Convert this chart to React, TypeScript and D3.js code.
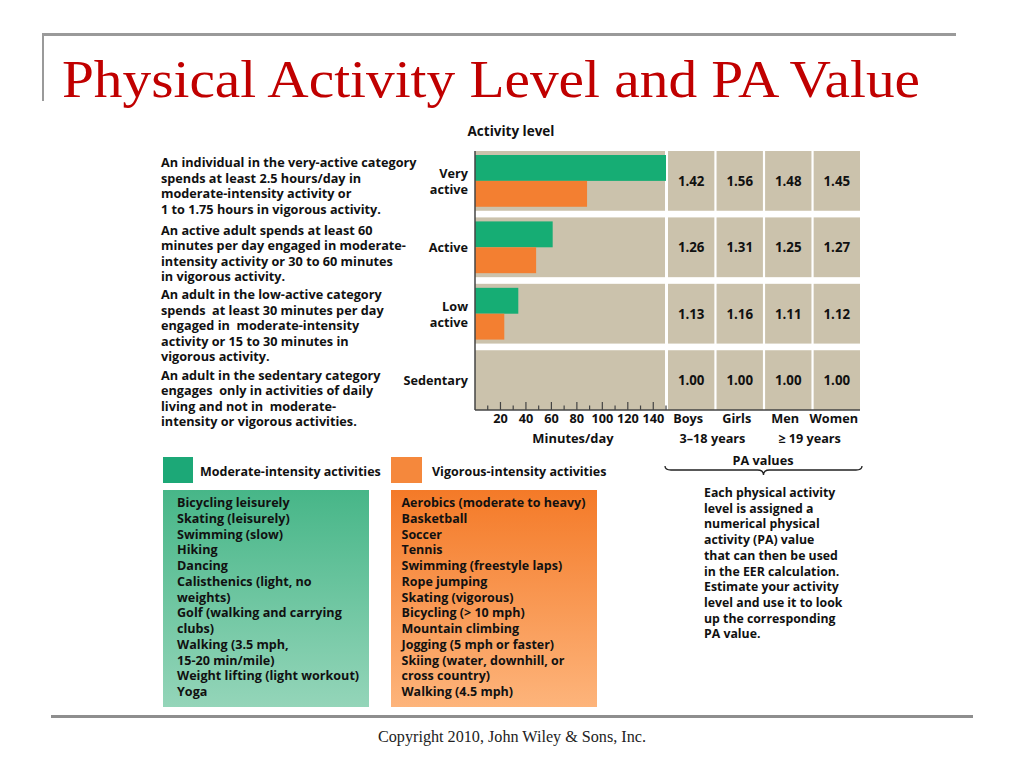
import React from 'react'
import * as d3 from 'd3'

// activity levels (rows) and minutes/day of each intensity
const levels = ['Very active', 'Active', 'Low active', 'Sedentary']
const levelLabels = [['Very', 'active'], ['Active'], ['Low', 'active'], ['Sedentary']]
const moderateMinutes = [150, 61, 34, 0]
const vigorousMinutes = [88, 48, 23, 0]

// PA values table
const groups = ['Boys', 'Girls', 'Men', 'Women']
const paBoys = ['1.42', '1.26', '1.13', '1.00']
const paGirls = ['1.56', '1.31', '1.16', '1.00']
const paMen = ['1.48', '1.25', '1.11', '1.00']
const paWomen = ['1.45', '1.27', '1.12', '1.00']
const ageLabels = [
  { text: '3–18 years', from: 'Boys', to: 'Girls' },
  { text: '≥ 19 years', from: 'Men', to: 'Women' },
]

const minuteTicks = [20, 40, 60, 80, 100, 120, 140]

const descriptions = [
  ['An individual in the very-active category', 'spends at least 2.5 hours/day in', 'moderate-intensity activity or', '1 to 1.75 hours in vigorous activity.'],
  ['An active adult spends at least 60', 'minutes per day engaged in moderate-', 'intensity activity or 30 to 60 minutes', 'in vigorous activity.'],
  ['An adult in the low-active category', 'spends  at least 30 minutes per day', 'engaged in  moderate-intensity', 'activity or 15 to 30 minutes in', 'vigorous activity.'],
  ['An adult in the sedentary category', 'engages  only in activities of daily', 'living and not in  moderate-', 'intensity or vigorous activities.'],
]
const descriptionStarts = [167, 234.5, 299, 379.5]

const moderateActivities = [
  'Bicycling leisurely', 'Skating (leisurely)', 'Swimming (slow)', 'Hiking', 'Dancing',
  'Calisthenics (light, no', 'weights)', 'Golf (walking and carrying', 'clubs)',
  'Walking (3.5 mph,', '15-20 min/mile)', 'Weight lifting (light workout)', 'Yoga',
]
const vigorousActivities = [
  'Aerobics (moderate to heavy)', 'Basketball', 'Soccer', 'Tennis', 'Swimming (freestyle laps)',
  'Rope jumping', 'Skating (vigorous)', 'Bicycling (> 10 mph)', 'Mountain climbing',
  'Jogging (5 mph or faster)', 'Skiing (water, downhill, or', 'cross country)', 'Walking (4.5 mph)',
]
const paNote = [
  'Each physical activity', 'level is assigned a', 'numerical physical', 'activity (PA) value',
  'that can then be used', 'in the EER calculation.', 'Estimate your activity',
  'level and use it to look', 'up the corresponding', 'PA value.',
]

const GREEN = '#16ad74'
const ORANGE = '#f37f31'
const TAN = '#cbc2ac'
const FONT = '"Open Sans", Lato, sans-serif'

export default () => {
  const x = d3.scaleLinear().domain([0, 150]).range([475, 666])
  const y = d3.scaleBand<string>().domain(levels).range([151, 410]).paddingInner(0.1)
  const inner = d3.scaleBand<string>().domain(['moderate', 'vigorous']).range([4, y.bandwidth() - 4])
  const col = d3.scaleBand<string>().domain(groups).range([668, 860]).paddingInner(0.045)
  const paTable = [paBoys, paGirls, paMen, paWomen]
  const ticks10 = d3.range(10, 151, 10)
  const lineH = 15.75

  const brace = (x0: number, x1: number, yy: number) => {
    const m = (x0 + x1) / 2
    return `M${x0},${yy - 4} Q${x0},${yy} ${x0 + 6},${yy} L${m - 6},${yy} Q${m},${yy} ${m},${yy + 5} Q${m},${yy} ${m + 6},${yy} L${x1 - 6},${yy} Q${x1},${yy} ${x1},${yy - 4}`
  }

  return (
    <svg width={1024} height={768} style={{ position: 'absolute', left: 0, top: 0, background: '#fff' }}>
      <defs>
        <linearGradient id="gGreen" x1="0" y1="0" x2="0" y2="1">
          <stop offset="0" stopColor="#47b688" />
          <stop offset="1" stopColor="#94d5b9" />
        </linearGradient>
        <linearGradient id="gOrange" x1="0" y1="0" x2="0" y2="1">
          <stop offset="0" stopColor="#f47a28" />
          <stop offset="1" stopColor="#fdb47b" />
        </linearGradient>
      </defs>

      {/* slide frame */}
      <line x1={42} x2={956} y1={34.5} y2={34.5} stroke="#9a9a9a" strokeWidth={3} />
      <line x1={43} x2={43} y1={33} y2={101} stroke="#9a9a9a" strokeWidth={2} />
      <line x1={51} x2={973} y1={716.5} y2={716.5} stroke="#8e8e8e" strokeWidth={3} />
      <text x={62} y={97} fontFamily='"Liberation Serif", serif' fontSize={52} fill="#c00000"
        textLength={858} lengthAdjust="spacingAndGlyphs">Physical Activity Level and PA Value</text>
      <text x={378} y={742} fontFamily='"Liberation Serif", serif' fontSize={16} fill="#222"
        textLength={268} lengthAdjust="spacingAndGlyphs">Copyright 2010, John Wiley &amp; Sons, Inc.</text>

      <g fontFamily={FONT} fontWeight={700} fill="#111">
        <text x={511} y={136} fontSize={13.5} textAnchor="middle">Activity level</text>

        {/* descriptions */}
        {descriptions.map((lines, i) => (
          <text key={i} x={161} fontSize={12.7}>
            {lines.map((l, j) => (
              <tspan key={j} x={161} y={descriptionStarts[i] + j * 15.6} style={{ whiteSpace: 'pre' }}>{l}</tspan>
            ))}
          </text>
        ))}

        {/* rows */}
        {levels.map((lv, i) => {
          const y0 = y(lv)!
          const bw = y.bandwidth()
          const lab = levelLabels[i]
          return (
            <g key={lv}>
              <rect x={x(0)} y={y0} width={x(150) - x(0) - 1} height={bw} fill={TAN} />
              {groups.map((g) => (
                <rect key={g} x={col(g)} y={y0} width={col.bandwidth()} height={bw} fill={TAN} />
              ))}
              <rect x={x(0)} y={y0 + inner('moderate')!} width={x(moderateMinutes[i]) - x(0)} height={inner.bandwidth()} fill={GREEN} />
              <rect x={x(0)} y={y0 + inner('vigorous')!} width={x(vigorousMinutes[i]) - x(0)} height={inner.bandwidth()} fill={ORANGE} />
              {lab.map((t, j) => (
                <text key={j} x={468} y={y0 + bw / 2 + 5 - (lab.length - 1) * 7.8 + j * 15.6} fontSize={12.7} textAnchor="end">{t}</text>
              ))}
              {groups.map((g, k) => (
                <text key={g} x={col(g)! + col.bandwidth() / 2} y={y0 + bw / 2 + 5} fontSize={13.3} textAnchor="middle">{paTable[k][i]}</text>
              ))}
            </g>
          )
        })}

        {/* axes */}
        <line x1={x(0)} x2={x(0)} y1={151} y2={410} stroke="#444" strokeWidth={1.5} />
        <line x1={x(0)} x2={860} y1={410} y2={410} stroke="#444" strokeWidth={1.5} />
        {ticks10.map((t) => (
          <line key={t} x1={x(t)} x2={x(t)} y1={410} y2={t % 20 === 0 ? 402 : 405.5} stroke="#444" strokeWidth={1.2} />
        ))}
        {minuteTicks.map((t) => (
          <text key={t} x={x(t)} y={423} fontSize={12.7} textAnchor="middle">{t}</text>
        ))}
        <text x={573} y={443} fontSize={12.9} textAnchor="middle">Minutes/day</text>
        {groups.map((g) => (
          <text key={g} x={col(g)! + col.bandwidth() / 2 - 3} y={423} fontSize={12.7} textAnchor="middle">{g}</text>
        ))}
        {ageLabels.map((a) => (
          <text key={a.text} x={(col(a.from)! + col(a.to)! + col.bandwidth()) / 2 - 3} y={442.5} fontSize={12.7} textAnchor="middle">{a.text}</text>
        ))}

        {/* PA values brace + note */}
        <text x={763} y={465} fontSize={12.7} textAnchor="middle">PA values</text>
        <path d={brace(665, 862, 470)} fill="none" stroke="#222" strokeWidth={1.3} />
        <text x={704} fontSize={12.3}>
          {paNote.map((l, j) => (
            <tspan key={j} x={704} y={497 + j * 15.7}>{l}</tspan>
          ))}
        </text>

        {/* legend */}
        <rect x={163} y={457} width={30} height={26} fill="#1ca877" />
        <text x={200} y={476} fontSize={12.5}>Moderate-intensity activities</text>
        <rect x={391} y={457} width={31} height={26} fill="#f5883c" />
        <text x={432} y={476} fontSize={12.5}>Vigorous-intensity activities</text>

        <rect x={163} y={490} width={206} height={217} fill="url(#gGreen)" />
        <rect x={391} y={490} width={206} height={217} fill="url(#gOrange)" />
        <text fontSize={12.6}>
          {moderateActivities.map((l, j) => (
            <tspan key={j} x={177} y={507 + j * lineH}>{l}</tspan>
          ))}
        </text>
        <text fontSize={12.5}>
          {vigorousActivities.map((l, j) => (
            <tspan key={j} x={401.5} y={507 + j * lineH}>{l}</tspan>
          ))}
        </text>
      </g>
    </svg>
  )
}
